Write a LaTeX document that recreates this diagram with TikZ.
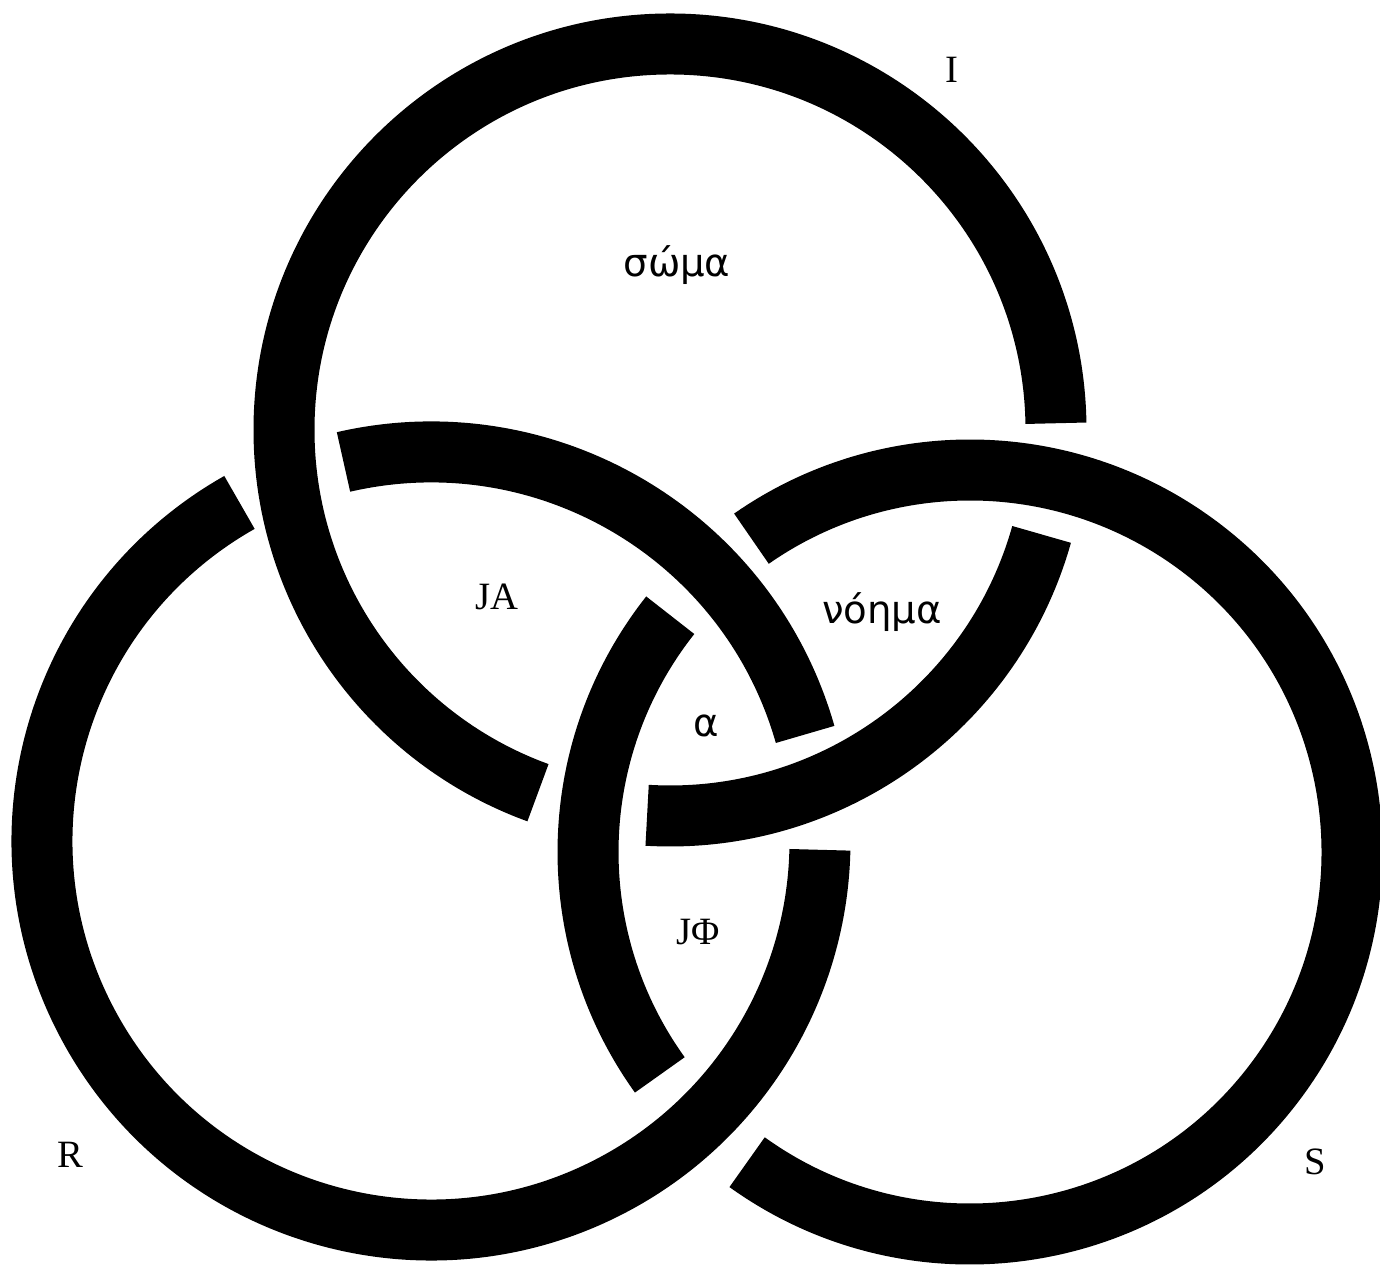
\documentclass[tikz,border=0pt]{standalone}
\usepackage{fontspec}
\setmainfont{Liberation Serif}
\newfontfamily\greekfont{DejaVu Sans}
\usepackage{tikz}
\usetikzlibrary{calc}

\begin{document}
\begin{tikzpicture}[x=1cm,y=1cm,font=\fontsize{11}{13}\selectfont]
\tikzset{ring/.style={line width=0.61cm,draw=black,line cap=butt},
  lab/.style={inner sep=0pt,text=black},glab/.style={lab,font=\fontsize{11}{13}\selectfont\greekfont}}
\useasboundingbox (0,0) rectangle (13.8,12.68);
\coordinate (cI) at (6.70,8.38);\coordinate (cR) at (4.31,4.27);\coordinate (cS) at (9.70,4.16);
% I: under S at both crossings
\draw[ring] ($(cI)+(1:3.86)$) arc[start angle=1,end angle=250,radius=3.86];
\draw[ring] ($(cI)+(266.6:3.86)$) arc[start angle=266.6,end angle=344.3,radius=3.86];
% R: under I
\draw[ring] ($(cR)+(15.9:3.89)$) arc[start angle=15.9,end angle=103,radius=3.89];
\draw[ring] ($(cR)+(119.5:3.89)$) arc[start angle=119.5,end angle=358.7,radius=3.89];
% S: under R
\draw[ring] ($(cS)+(141.7:3.82)$) arc[start angle=141.7,end angle=215.7,radius=3.82];
\draw[ring] ($(cS)+(234.3:3.82)$) arc[start angle=234.3,end angle=484.9,radius=3.82];
% labels
\node[lab] (lI) at (9.52,11.98) {I};
\node[lab] (lR) at (0.70,1.13) {R};
\node[lab] (lS) at (13.15,1.06) {S};
\node[glab] (soma) at (6.77,10.03) {σώμα};
\node[glab] (noema) at (8.82,6.56) {νόημα};
\node[glab] (a) at (7.06,5.42) {α};
\node[lab] (JA) at (4.97,6.71) {JA};
\node[lab] (JPhi) at (6.98,3.36) {JΦ};
\end{tikzpicture}
\end{document}
